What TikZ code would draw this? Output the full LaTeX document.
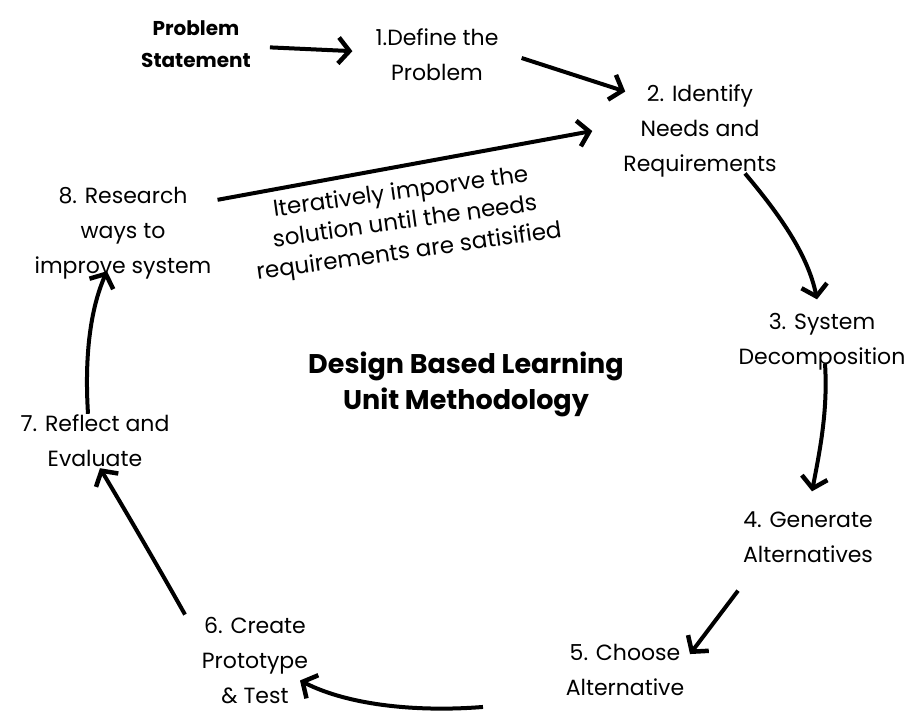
\documentclass[tikz,border=0pt]{standalone}
\usepackage{fontspec}
\setmainfont{Poppins}
\usetikzlibrary{arrows.meta,calc}
\tikzset{ step_node/.style = { align = center % cycle step
        , inner sep = 1pt
        , font = \fontsize{22}{35}\selectfont
        }
        , head_node/.style = { align = center % bold heading
        , inner sep = 1pt
        , font = \fontsize{27}{36}\selectfont\bfseries
        }
        , note_node/.style = { align = center % loop remark
        , inner sep = 1pt
        , font = \fontsize{23}{30}\selectfont
        }
        , edge_style/.style = { draw = black
        , line width = 4pt
        , -{Straight Barb[length=11pt,width=26pt,line width=4.5pt]}
        }
        }

\begin{document}
\begin{tikzpicture}[x=1pt, y=-1pt]
        \useasboundingbox (0,0) rectangle (905,713);

        \node [head_node, font=\fontsize{20}{32}\selectfont\bfseries] (ps) at (196,44) {Problem\\Statement};
        \node [step_node] (n1) at (437,55) {1.Define the\\Problem};
        \node [step_node] (n2) at (700,131) {2. Identify\\Needs and\\Requirements};
        \node [step_node] (n3) at (822,342) {3. System\\Decomposition};
        \node [step_node] (n4) at (808,537) {4. Generate\\Alternatives};
        \node [step_node] (n5) at (625,670) {5. Choose\\Alternative};
        \node [step_node] (n6) at (255,661) {6. Create\\Prototype\\\& Test};
        \node [step_node] (n7) at (95,441) {7. Reflect and\\Evaluate};
        \node [step_node] (n8) at (123,233) {8. Research\\ways to\\improve system};
        \node [head_node] (title) at (466,384) {Design Based Learning\\Unit Methodology};
        \node [note_node, rotate=8] (note) at (405,223) {Iteratively imporve the\\solution until the needs\\requirements are satisified};

        \draw [edge_style, shorten <=18pt, shorten >=22pt] (ps) -- (n1);
        \draw [edge_style] ([xshift=22pt,yshift=-3pt]n1.east) -- ([xshift=3pt,yshift=-8pt]n2.north west);
        \draw [edge_style] ([xshift=45pt,yshift=5pt]n2.south) .. controls (780,215) and (808,255) .. ([xshift=-5pt,yshift=13pt]n3.north);
        \draw [edge_style] ([xshift=3pt,yshift=8pt]n3.south) .. controls (828,410) and (820,450) .. ([xshift=4pt,yshift=19pt]n4.north);
        \draw [edge_style] ([xshift=-70pt,yshift=-27pt]n4.south) -- ([xshift=65pt,yshift=-11pt]n5.north);
        \draw [edge_style] ([xshift=-142pt,yshift=-10pt]n5.south) .. controls (420,712) and (350,706) .. ([xshift=45pt,yshift=25pt]n6.south);
        \draw [edge_style] ([xshift=-70pt,yshift=2pt]n6.north) .. controls (160,570) and (125,510) .. ([xshift=5pt]n7.south);
        \draw [edge_style] ([xshift=-7pt]n7.north) .. controls (84,350) and (92,305) .. ([xshift=-16pt,yshift=9pt]n8.south);
        \draw [edge_style] ([xshift=5pt,yshift=-14pt]n8.north east) -- ([xshift=-30pt]n2.west);
\end{tikzpicture}
\end{document}
